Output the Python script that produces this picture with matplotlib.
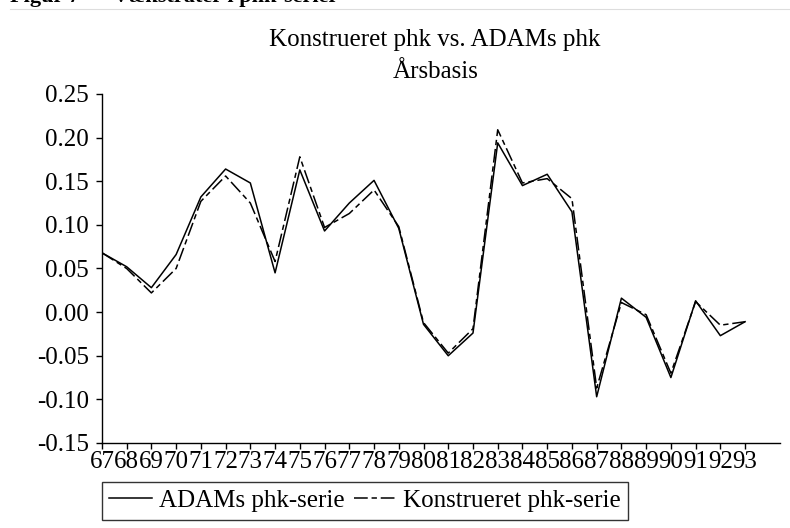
import matplotlib
matplotlib.use("Agg")
import matplotlib.pyplot as plt
import numpy as np

plt.rcParams['font.family'] = ['Liberation Serif', 'DejaVu Serif']

# Årstal (67-93) og vækstrater
years = np.arange(67, 94)
adams = [0.068, 0.052, 0.028, 0.066, 0.132, 0.164, 0.148, 0.045, 0.163, 0.093,
         0.125, 0.151, 0.096, -0.014, -0.050, -0.024, 0.194, 0.145, 0.158, 0.115,
         -0.097, 0.016, -0.006, -0.075, 0.013, -0.027, -0.011]
konstr = [0.068, 0.050, 0.022, 0.050, 0.127, 0.156, 0.125, 0.058, 0.178, 0.097,
          0.113, 0.140, 0.098, -0.012, -0.047, -0.019, 0.209, 0.148, 0.153, 0.130,
          -0.087, 0.011, -0.003, -0.070, 0.012, -0.015, -0.011]
yticks = [0.25, 0.20, 0.15, 0.10, 0.05, 0.00, -0.05, -0.10, -0.15]

fig = plt.figure(figsize=(7.9, 5.28), dpi=100)
ax = fig.add_axes([0.129, 0.161, 0.858, 0.661])

ax.plot(years, adams, color='black', lw=1.1, label='ADAMs phk-serie')
ax.plot(years, konstr, color='black', lw=1.1, dashes=(9, 2.5, 3.5, 2.5),
        label='Konstrueret phk-serie')

ax.set_xlim(67, 94.4)
ax.set_ylim(-0.15, 0.25)
ax.set_yticks(yticks)
ax.set_yticklabels([f'{v:.2f}' for v in yticks])
ax.set_xticks(years)
ax.set_xticklabels([str(y) for y in years])
ax.tick_params(labelsize=18, length=4.5, width=1, color='black')
ax.tick_params(axis='y', pad=5)
ax.tick_params(axis='x', pad=1)
for s in ['top', 'right']:
    ax.spines[s].set_visible(False)
for s in ['left', 'bottom']:
    ax.spines[s].set_linewidth(1)

fig.text(0.550, 0.912, 'Konstrueret phk vs. ADAMs phk', ha='center',
         va='baseline', fontsize=18)
fig.text(0.551, 0.852, 'Årsbasis', ha='center', va='baseline', fontsize=18)

leg = fig.legend(loc='upper left', bbox_to_anchor=(0.129, 0.087), ncol=2,
                 fontsize=18, frameon=True, fancybox=False, handlelength=1.7,
                 handletextpad=0.28, columnspacing=0.36, borderpad=0.3,
                 borderaxespad=0)
leg.get_frame().set_edgecolor('black')
leg.get_frame().set_linewidth(1)

# Afskåret overskrift øverst
fig.text(0.013, 1.005, 'Figur 7      Vækstrater i phk-serier', fontsize=16,
         fontweight='bold', va='center', ha='left')
fig.add_artist(plt.Line2D([0.013, 1.0], [0.983, 0.983], color='#dddddd', lw=0.8))

fig.savefig('out.png', dpi=100)
